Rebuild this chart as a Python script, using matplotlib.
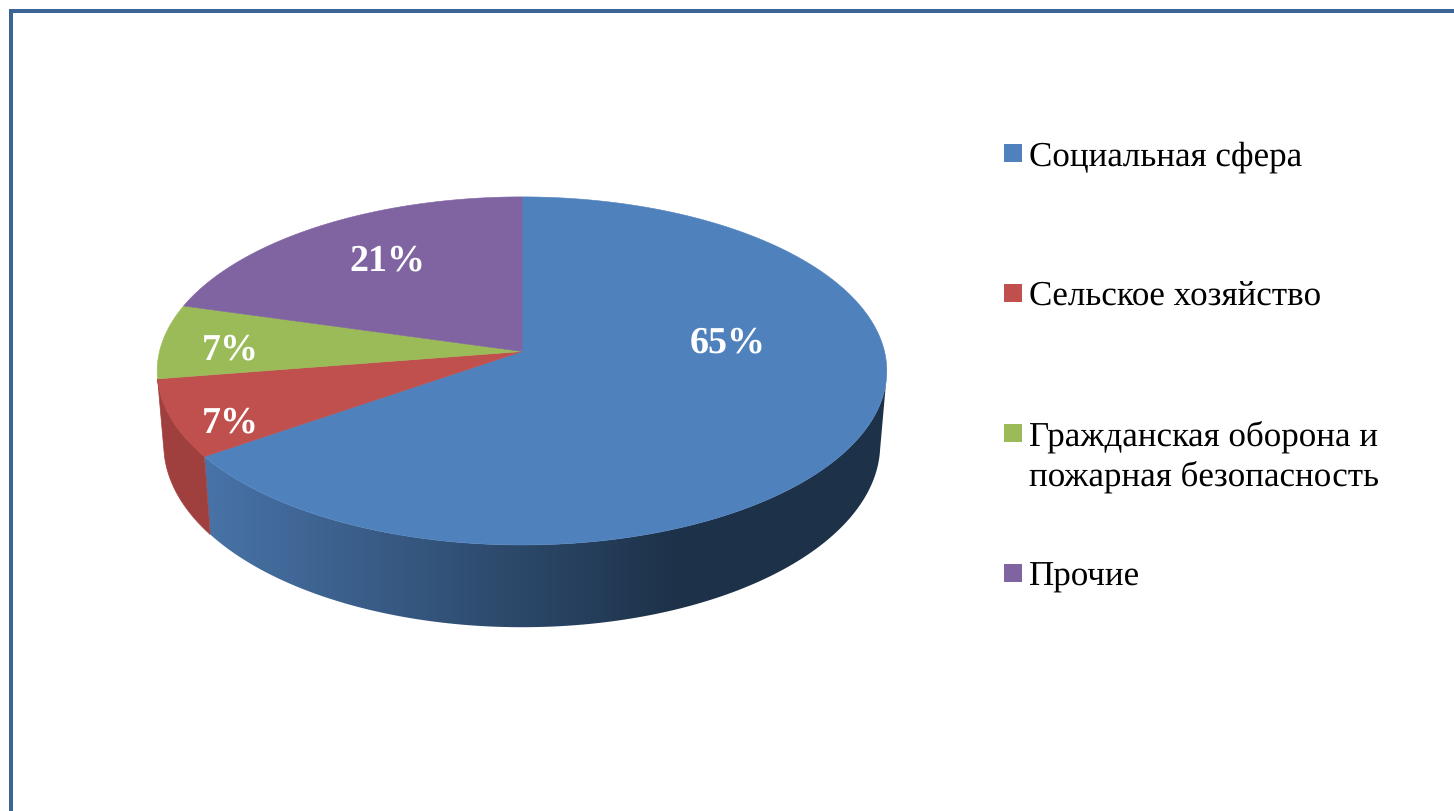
import numpy as np
import matplotlib
matplotlib.use("Agg")
import matplotlib.pyplot as plt
from matplotlib.colors import LinearSegmentedColormap
from matplotlib.patches import Polygon, Rectangle

categories = ["Социальная сфера", "Сельское хозяйство",
              "Гражданская оборона и\nпожарная безопасность", "Прочие"]
shares = [65.3, 7.2, 6.9, 20.6]
colors = ["#4F81BD", "#C0504D", "#9BBB59", "#8064A2"]

plt.rcParams['font.family'] = ['Liberation Serif', 'DejaVu Serif']
plt.rcParams['text.hinting'] = 'none'
plt.rcParams['text.hinting_factor'] = 1


def project_top(theta):
    # circle seen in perspective, theta runs clockwise from 12 o'clock
    X, Y = np.sin(theta), np.cos(theta)
    den = 1 + 0.1117 * Y
    return 522 + 362.5 * X / den, (352.5 - 132.5 * Y) / den


def project_bottom(theta):
    x, y = project_top(theta)
    return 522 + 0.982 * (x - 522), 445 + 1.05 * (y - 371.5)


def side_polygon(start, end):
    t = np.linspace(start, end, 200)
    xt, yt = project_top(t)
    xb, yb = project_bottom(t[::-1])
    return np.column_stack([np.r_[xt, xb], np.r_[yt, yb]])


fig = plt.figure(figsize=(14.54, 8.12), dpi=100)
ax = fig.add_axes([0, 0, 1, 1])
ax.axis('off')

# slice edges from the values
edges = 2 * np.pi * np.cumsum([0] + shares) / sum(shares)

# frame
frame_color = "#3A6594"
ax.add_patch(Rectangle((9, 9.5), 1445, 4, color=frame_color, lw=0))
ax.add_patch(Rectangle((9, 9.5), 4, 803, color=frame_color, lw=0))

# sides
blue_side = Polygon(side_polygon(np.radians(98), edges[1]), closed=True,
                    facecolor='none', edgecolor='none')
ax.add_patch(blue_side)
side_cmap = LinearSegmentedColormap.from_list(
    "side", [(0, "#4873A8"), (0.69, "#1D3249"), (1, "#1D3249")])
img = ax.imshow(np.linspace(0, 1, 400).reshape(1, -1),
                extent=[205, 890, 640, 370], cmap=side_cmap, aspect='auto', zorder=1)
img.set_clip_path(blue_side)
ax.add_patch(Polygon(side_polygon(edges[1], edges[2]), closed=True,
                     facecolor="#9F403E", edgecolor="#9F403E", lw=0.5, zorder=1))

# top surface
for i, col in enumerate(colors):
    t = np.linspace(edges[i], edges[i + 1], 200)
    x, y = project_top(t)
    pts = np.column_stack([np.r_[522, x], np.r_[352.5, y]])
    ax.add_patch(Polygon(pts, closed=True, facecolor=col, edgecolor=col, lw=0.4, zorder=2))

# percent labels
label_pos = [(728, 343), (230.5, 423), (230.5, 350), (387.5, 261)]
for v, (lx, ly) in zip(shares, label_pos):
    ax.text(lx, ly, f"{v:.0f}%", color='white', fontsize=27.5, fontweight='bold',
            ha='center', va='center', zorder=3)

# legend
for i, (name, col) in enumerate(zip(categories, colors)):
    base = 166 + 140 * i
    ax.add_patch(Rectangle((1004, base - 21), 18, 18, color=col, lw=0))
    for j, line in enumerate(name.split("\n")):
        ax.text(1029, base + 40 * j, line, fontsize=24.93, color='black',
                ha='left', va='baseline')

ax.set_xlim(0, 1454)
ax.set_ylim(812, 0)
fig.savefig("out.png", dpi=100)
